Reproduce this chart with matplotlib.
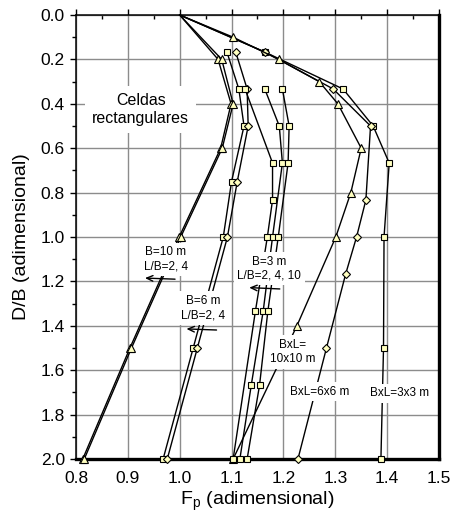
import matplotlib
matplotlib.use("Agg")
import matplotlib.pyplot as plt
from matplotlib.ticker import MultipleLocator

plt.rcParams['font.family'] = ['Liberation Sans', 'DejaVu Sans']

# ---- Square cells (BxL) ----
db_3x3 = [0.0, 0.1667, 0.3333, 0.5, 0.6667, 1.0, 1.5, 2.0]
fp_3x3 = [1.0, 1.164, 1.315, 1.373, 1.404, 1.394, 1.393, 1.388]

db_6x6 = [0.0, 0.1667, 0.3333, 0.5, 0.8333, 1.0, 1.1667, 1.5, 2.0]
fp_6x6 = [1.0, 1.164, 1.296, 1.368, 1.359, 1.341, 1.320, 1.283, 1.228]

db_10x10 = [0.0, 0.1, 0.2, 0.3, 0.4, 0.6, 0.8, 1.0, 1.4, 2.0]
fp_10x10 = [1.0, 1.103, 1.191, 1.269, 1.305, 1.350, 1.330, 1.301, 1.226, 1.103]

# ---- Rectangular cells, B = 10 m (L/B = 2, 4) ----
db_b10 = [0.0, 0.2, 0.4, 0.6, 1.0, 1.5, 2.0]
fp_b10_lb2 = [1.0, 1.074, 1.099, 1.079, 0.999, 0.904, 0.813]
fp_b10_lb4 = [1.0, 1.081, 1.103, 1.082, 1.002, 0.907, 0.816]

# ---- Rectangular cells, B = 6 m (L/B = 2, 4) ----
db_b6 = [0.1667, 0.3333, 0.5, 0.75, 1.0, 1.5, 2.0]
fp_b6_lb2 = [1.091, 1.114, 1.124, 1.100, 1.084, 1.026, 0.968]
fp_b6_lb4 = [1.108, 1.130, 1.132, 1.111, 1.092, 1.034, 0.976]

# ---- Rectangular cells, B = 3 m (L/B = 2, 4, 10) ----
db_b3_a = [0.3333, 0.6667, 0.8333, 1.0, 1.3333, 2.0]
fp_b3_a = [1.126, 1.179, 1.179, 1.169, 1.146, 1.103]
db_b3_b = [0.3333, 0.5, 0.6667, 1.0, 1.3333, 1.6667, 2.0]
fp_b3_b = [1.164, 1.192, 1.198, 1.179, 1.161, 1.138, 1.116]
db_b3_c = [0.3333, 0.5, 0.6667, 1.0, 1.3333, 1.6667, 2.0]
fp_b3_c = [1.198, 1.211, 1.209, 1.190, 1.170, 1.154, 1.130]

x_ticks = [0.8, 0.9, 1.0, 1.1, 1.2, 1.3, 1.4, 1.5]
y_ticks = [0.0, 0.2, 0.4, 0.6, 0.8, 1.0, 1.2, 1.4, 1.6, 1.8, 2.0]

MFC = '#ffffc0'

fig = plt.figure(figsize=(4.6, 5.19), dpi=100)
ax = fig.add_axes([76 / 460, 1 - 459 / 519, (439 - 76) / 460, (459 - 15) / 519])


def series(fp, db, marker, ms):
    # the surface point (D/B = 0) is a plain vertex, without a symbol
    every = [i for i, d in enumerate(db) if d > 0]
    ax.plot(fp, db, color='black', lw=1.0, marker=marker, ms=ms,
            markevery=every, mfc=MFC, mec='black', mew=0.8,
            zorder=3, clip_on=False)


SQ, DM, TR = 5.0, 4.4, 5.8
series(fp_3x3, db_3x3, 's', SQ)
series(fp_6x6, db_6x6, 'D', DM)
series(fp_10x10, db_10x10, '^', TR)
series(fp_b10_lb2, db_b10, '^', TR)
series(fp_b10_lb4, db_b10, '^', TR)
series(fp_b6_lb2, db_b6, 's', SQ)
series(fp_b6_lb4, db_b6, 'D', DM)
series(fp_b3_a, db_b3_a, 's', SQ)
series(fp_b3_b, db_b3_b, 's', SQ)
series(fp_b3_c, db_b3_c, 's', SQ)

ax.set_xlim(0.8, 1.5)
ax.set_ylim(2.0, 0.0)
ax.set_xticks(x_ticks)
ax.set_xticklabels([f"{v:.1f}" for v in x_ticks])
ax.set_yticks(y_ticks)
ax.set_yticklabels([f"{v:.1f}" for v in y_ticks])
ax.xaxis.set_minor_locator(MultipleLocator(0.05))
ax.yaxis.set_minor_locator(MultipleLocator(0.1))

ax.grid(True, which='major', color='#8c8c8c', lw=1.0, zorder=0)
ax.set_axisbelow(True)

ax.tick_params(axis='x', which='both', bottom=False, top=True,
               labelbottom=True, labeltop=False, labelsize=12.5, pad=4)
ax.tick_params(axis='x', which='major', direction='out', length=4.5, width=1)
ax.tick_params(axis='x', which='minor', direction='in', length=3, width=1)
ax.tick_params(axis='y', which='both', left=True, right=False,
               labelsize=12.5, direction='out', width=1)
ax.tick_params(axis='y', which='major', length=4.5)
ax.tick_params(axis='y', which='minor', length=3)

for side in ('left', 'top'):
    ax.spines[side].set_linewidth(1.1)
for side in ('right', 'bottom'):
    ax.spines[side].set_linewidth(2.4)

ax.set_xlabel('F$_\\mathregular{p}$ (adimensional)', fontsize=14, labelpad=3)
ax.set_ylabel('D/B (adimensional)', fontsize=14, labelpad=8)


def label(x, y, txt, size=8.5, pad=2.5):
    ax.text(x, y, txt, fontsize=size, ha='center', va='center',
            linespacing=1.25, zorder=6,
            bbox=dict(facecolor='white', edgecolor='none', pad=pad))


label(0.925, 0.425, 'Celdas\nrectangulares', size=11.5, pad=5)
label(0.973, 1.10, 'B=10 m\nL/B=2, 4')
label(1.045, 1.32, 'B=6 m\nL/B=2, 4')
label(1.1725, 1.143, 'B=3 m\nL/B=2, 4, 10')
label(1.218, 1.518, 'BxL=\n10x10 m')
label(1.270, 1.697, 'BxL=6x6 m')
label(1.423, 1.704, 'BxL=3x3 m')


def arrow(x0, y0, x1, y1):
    ax.annotate('', xy=(x1, y1), xytext=(x0, y0), zorder=7,
                arrowprops=dict(arrowstyle='->,head_length=0.45,head_width=0.2',
                                color='black', lw=1.0, shrinkA=0, shrinkB=0))


arrow(0.991, 1.19, 0.933, 1.185)
arrow(1.071, 1.419, 1.013, 1.414)
arrow(1.193, 1.234, 1.134, 1.228)

fig.savefig('out.png', dpi=100)
